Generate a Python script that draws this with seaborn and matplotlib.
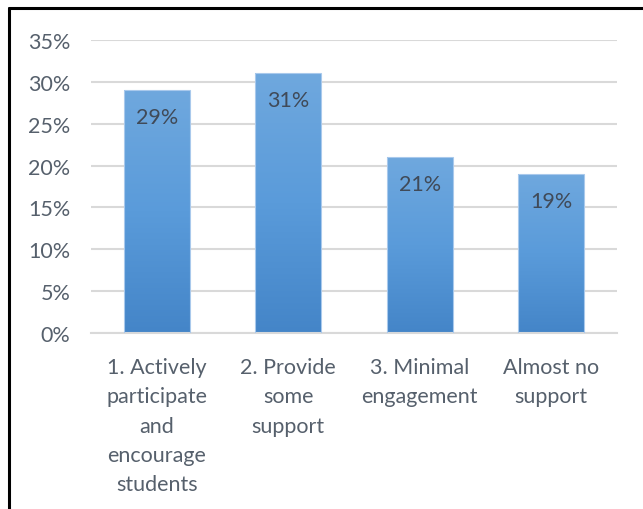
import numpy as np
import pandas as pd
import matplotlib
matplotlib.use("Agg")
import matplotlib.pyplot as plt
from matplotlib.colors import LinearSegmentedColormap
from matplotlib.lines import Line2D
import seaborn as sns

# Share of respondents by level of support
categories = ["1. Actively\nparticipate\nand\nencourage\nstudents",
              "2. Provide\nsome\nsupport",
              "3. Minimal\nengagement",
              "Almost no\nsupport"]
shares = [29, 31, 21, 19]
y_ticks = [0, 5, 10, 15, 20, 25, 30, 35]
y_tick_labels = [f"{t}%" for t in y_ticks]

df = pd.DataFrame({"category": categories, "share": shares})

sns.set_theme(style="white")
plt.rcParams["font.family"] = ["Lato", "DejaVu Sans"]

fig = plt.figure(figsize=(6.43, 5.10), dpi=100)
ax = fig.add_axes([91 / 643, 1 - 334 / 510, 526 / 643, (334 - 41) / 510])

sns.barplot(data=df, x="category", y="share", color="#5B9BD5", width=0.5,
            edgecolor="#A9C9EC", linewidth=0.8, ax=ax, zorder=2)

ax.set_ylim(0, 35)
ax.set_xlim(-0.5, len(categories) - 0.5)
ax.set_yticks(y_ticks)
ax.set_yticklabels(y_tick_labels)
ax.set_xlabel("")
ax.set_ylabel("")

# Gradient fill on each bar (light at top, deeper at bottom)
cmap = LinearSegmentedColormap.from_list("bar", ["#4485C8", "#5A9BDA", "#6FA8DE"])
grad = np.linspace(0, 1, 256).reshape(-1, 1)
for patch in ax.patches:
    x0, y0 = patch.get_x(), patch.get_y()
    w, h = patch.get_width(), patch.get_height()
    im = ax.imshow(grad, cmap=cmap, aspect="auto", origin="lower",
                   extent=[x0, x0 + w, y0, y0 + h], zorder=2.5)
    im.set_clip_path(patch)
    patch.set_facecolor("none")
    patch.set_zorder(3)

# Value labels inside the bars near the top
for i, v in enumerate(shares):
    ax.text(i, v - 3.2, f"{v}%", ha="center", va="center",
            fontsize=15.5, color="#404A58", zorder=4)

ax.yaxis.grid(True, color="#D9D9D9", linewidth=1.5, zorder=0)
ax.set_axisbelow(True)
for side in ["top", "right", "left"]:
    ax.spines[side].set_visible(False)
ax.spines["bottom"].set_color("#D9D9D9")
ax.spines["bottom"].set_linewidth(1.5)

ax.tick_params(axis="y", length=0, pad=15, labelsize=15.5, labelcolor="#56606C")
ax.tick_params(axis="x", length=0, pad=17.5, labelsize=15.5, labelcolor="#56606C")
for lbl in ax.get_xticklabels():
    lbl.set_linespacing(1.57)
    lbl.set_verticalalignment("top")

# Black frame along the top and left edges
fig.add_artist(Line2D([9 / 643, 9 / 643], [0, 1 - 9 / 510], transform=fig.transFigure,
                      color="black", linewidth=2.2))
fig.add_artist(Line2D([9 / 643, 1], [1 - 9 / 510, 1 - 9 / 510], transform=fig.transFigure,
                      color="black", linewidth=2.2))

fig.savefig("out.png", dpi=100)
